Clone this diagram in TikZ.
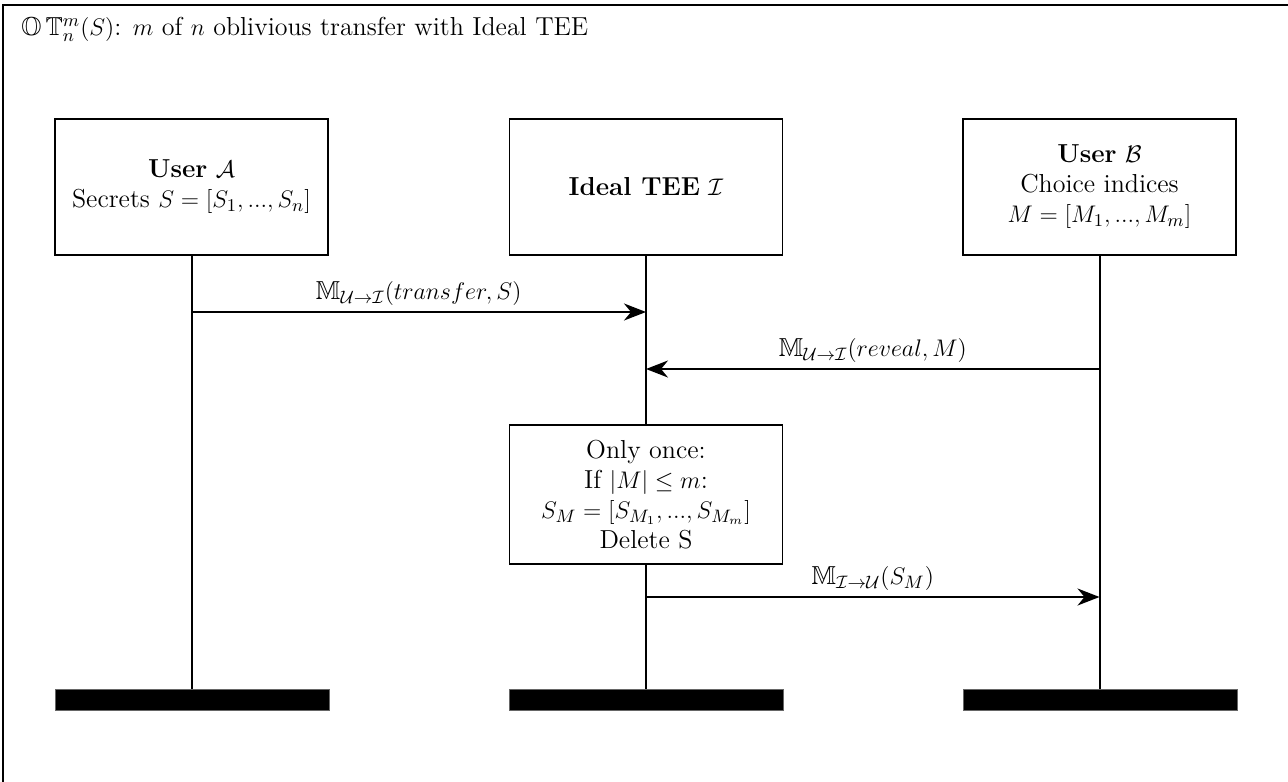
\documentclass[tikz,border=0pt]{standalone}
\usepackage{amsmath,amssymb}
\usetikzlibrary{arrows.meta}

\tikzset{
  txt/.style={font=\fontsize{13}{15}\selectfont},
  party/.style={draw, line width=0.9pt, align=center, minimum width=136.5pt,
    minimum height=68pt, inner sep=2pt, txt},
  procbox/.style={party, minimum height=69.5pt},
  endbar/.style={fill=black, draw=black!60, line width=0.4pt, minimum width=137pt,
    minimum height=10.5pt, inner sep=0pt},
  lifeline/.style={line width=1pt},
  msg/.style={line width=1pt, -{Stealth[length=11pt, width=8.5pt, inset=3.5pt]}},
  msglabel/.style={above, inner sep=3pt, txt},
}

\begin{document}
\begin{tikzpicture}[x=0.5pt, y=-0.5pt]
  \clip (0,0) rectangle (1288,781);
  % outer frame, running past the page on the right and bottom
  \draw[line width=1.4pt] (3,5) rectangle (1320,820);

  % title
  \node[anchor=west, inner sep=0pt, txt] (title) at (21,29)
    {$\mathbb{O}\,\mathbb{T}^m_n(S)$: $m$ of $n$ oblivious transfer with Ideal TEE};

  % participants
  \node[party] (A) at (191.5,187) {\textbf{User} $\mathcal{A}$\\ Secrets $S=[S_1,...,S_n]$};
  \node[party] (I) at (646,187) {\textbf{Ideal TEE} $\mathcal{I}$};
  \node[party] (B) at (1099.5,187) {\textbf{User} $\mathcal{B}$\\ Choice indices\\ $M=[M_1,...,M_m]$};

  % end-of-life bars
  \node[endbar] (Aend) at (192,699.5) {};
  \node[endbar] (Iend) at (646.5,699.5) {};
  \node[endbar] (Bend) at (1100,699.5) {};

  % processing step inside the TEE
  \node[procbox] (P) at (646,494.5)
    {Only once:\\ If $|M|\le m$:\\ $S_M=[S_{M_1},...,S_{M_m}]$\\ Delete S};

  % lifelines
  \draw[lifeline] (A.south) -- (A.south |- Aend.north);
  \draw[lifeline] (I.south) -- (P.north);
  \draw[lifeline] (P.south) -- (P.south |- Iend.north);
  \draw[lifeline] (B.south) -- (B.south |- Bend.north);

  % message anchor points on the lifelines
  \coordinate (m1) at (0,312);
  \coordinate (m2) at (0,369);
  \coordinate (m3) at (0,597);

  % messages
  \draw[msg] (A.south |- m1) -- node[msglabel]
    {$\mathbb{M}_{\mathcal{U}\to\mathcal{I}}(transfer,S)$} (I.south |- m1);
  \draw[msg] (B.south |- m2) -- node[msglabel]
    {$\mathbb{M}_{\mathcal{U}\to\mathcal{I}}(reveal,M)$} (I.south |- m2);
  \draw[msg] (P.south |- m3) -- node[msglabel]
    {$\mathbb{M}_{\mathcal{I}\to\mathcal{U}}(S_M)$} (B.south |- m3);
\end{tikzpicture}
\end{document}
